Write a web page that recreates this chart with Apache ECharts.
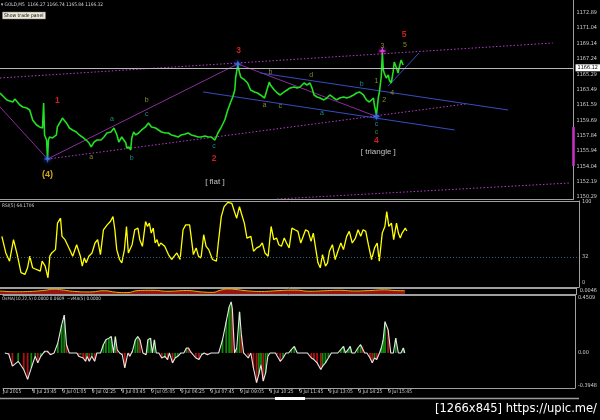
<!DOCTYPE html>
<html><head><meta charset="utf-8">
<script src="https://cdn.jsdelivr.net/npm/echarts@6/dist/echarts.min.js"></script>
<style>html,body{margin:0;padding:0;background:#000;}#c{width:600px;height:420px;}</style>
</head><body><div id="c"></div>
<script>
// ================= DATA =================
const timeTickLabels = ['Jul 2015','8 Jul 23:45','9 Jul 01:05','9 Jul 02:25','9 Jul 03:45','9 Jul 05:05','9 Jul 06:25','9 Jul 07:45','9 Jul 09:05','9 Jul 10:25','9 Jul 11:45','9 Jul 13:05','9 Jul 14:25','9 Jul 15:45'];
const barsPerTick = 16;
const slotCount = 309;

const priceTicks = [1172.89,1171.04,1169.14,1167.24,1165.29,1163.49,1161.59,1159.69,1157.84,1155.94,1154.04,1152.19,1150.29];
const currentPrice = 1166.12;
const axisBandPrice = [1154.09, 1158.87];

const priceIdx = [0,3.7,6.9,8.0,10.7,12.3,14.4,16.0,17.6,19.7,21.3,22.9,23.5,24.0,25.1,25.6,26.1,26.7,28.3,30.4,30.9,33.1,33.6,35.8,37.4,39.0,41.1,42.7,44.3,46.4,48.0,49.1,50.7,52.3,54.4,56.0,57.6,59.8,61.4,63.0,64.0,65.6,67.8,68.3,69.4,70.4,71.0,72.0,73.1,74.7,76.3,78.4,80.0,81.6,83.8,85.4,87.0,89.1,90.7,92.3,94.4,96.0,97.6,99.8,101.4,103.0,105.1,106.7,108.3,110.5,112.1,113.7,115.8,117.4,119.0,121.1,122.7,124.3,125.4,126.5,127.0,128.1,129.1,129.7,131.8,133.4,135.0,137.1,138.7,140.3,142.5,143.0,145.1,145.7,147.8,149.4,151.0,153.1,154.7,156.3,158.5,160.1,161.7,163.8,165.4,167.0,168.1,169.2,170.8,172.4,174.5,176.1,177.7,179.8,181.4,183.0,185.2,186.8,188.4,190.5,192.1,193.7,195.8,197.4,199.0,201.2,201.7,202.8,203.8,204.4,205.4,206.0,206.5,207.0,208.1,209.2,209.7,210.8,211.8,212.4,213.4,214.5,215.0,216.1,217.2];
const priceVal = [1163.03,1162.18,1161.93,1162.30,1161.56,1161.32,1161.19,1160.95,1159.72,1159.11,1158.87,1158.74,1161.81,1157.89,1157.27,1154.94,1157.27,1157.64,1157.52,1157.89,1158.87,1159.72,1159.97,1159.36,1158.74,1158.50,1158.25,1157.89,1157.64,1157.27,1156.90,1156.42,1157.03,1157.27,1157.27,1157.64,1158.13,1158.25,1158.74,1157.89,1157.03,1157.64,1156.90,1156.29,1156.42,1156.05,1157.52,1158.25,1157.89,1158.13,1158.50,1158.87,1159.36,1158.87,1158.74,1158.50,1158.25,1158.13,1158.13,1157.89,1157.76,1157.64,1157.89,1158.01,1158.13,1157.89,1157.76,1157.64,1157.64,1157.76,1157.64,1157.64,1157.27,1158.13,1158.74,1159.72,1160.95,1161.93,1162.54,1163.40,1164.99,1166.46,1165.48,1164.99,1164.63,1164.26,1163.40,1163.16,1163.03,1162.79,1162.42,1162.79,1164.38,1164.01,1163.40,1163.03,1162.79,1163.16,1163.40,1163.65,1163.77,1163.65,1163.77,1164.26,1164.01,1164.26,1163.65,1162.79,1162.54,1162.42,1162.18,1162.42,1162.79,1162.42,1162.18,1162.42,1162.54,1162.42,1162.54,1162.79,1163.03,1163.16,1162.79,1162.18,1161.93,1162.42,1161.56,1160.34,1162.42,1163.16,1164.99,1167.93,1165.85,1165.48,1164.87,1165.24,1164.63,1164.26,1165.61,1166.83,1166.22,1165.48,1166.10,1167.08,1166.46];

// trend / channel lines: [startIdx, startPrice] -> [endIdx, endPrice]
const lineKind   = ['channel','channel','channel','wave','wave','wave','triangle','triangle','triangle'];
const lineStartIdx   = [0, 25.6, 149.4, 25.6, 0, 128.1, 140.3, 109.4, 209.2];
const lineStartPrice = [1164.87, 1154.94, 1150.04, 1154.94, 1161.32, 1166.59, 1165.48, 1163.16, 1163.89];
const lineEndIdx     = [297.8, 250.8, 306.8, 128.1, 25.6, 202.8, 273.7, 244.9, 225.7];
const lineEndPrice   = [1169.16, 1161.68, 1152.00, 1166.59, 1154.94, 1160.15, 1160.95, 1158.50, 1167.93];

const pivotIdx   = [25.6, 128.1, 202.8, 206.0];
const pivotPrice = [1154.94, 1166.59, 1160.15, 1168.18];
const pivotKind  = ['wave','wave','wave','subwave'];

const waveText   = ['(4)','1','a','a','b','c','b','c','2','[ flat ]','3','b','a','c','d','b','a','1','2','3','4','5','5','c','c','4','[ triangle ]'];
const waveIdx    = [25.6,30.9,49.1,60.3,79.0,79.0,71.0,115.3,115.3,115.8,128.6,145.7,142.5,151.0,167.6,194.8,173.4,202.8,207.0,206.0,211.3,218.2,217.7,202.8,202.8,202.8,203.8];
const wavePrice  = [1153.10,1162.05,1155.19,1159.85,1162.18,1160.46,1155.07,1156.54,1154.94,1152.13,1168.18,1165.61,1161.56,1161.44,1165.24,1164.14,1160.58,1164.50,1162.18,1168.79,1163.03,1168.92,1170.14,1159.23,1158.25,1157.15,1155.80];
const waveDegree = ['intermediate','minor','minute','minuette','minute','minuette','minuette','minuette','minor','pattern','minor','minute','minute','minute','minute','minuette','minuette','minute','minute','minute','minute','minute','minor','minuette','subminuette','minor','pattern'];

const rsiTicks = [100, 32, 0];
const rsiLevel = 32;
const rsiIdx = [1.0,3.1,5.1,7.2,9.2,11.2,13.3,14.7,15.9,17.4,19.4,21.5,22.5,24.1,25.6,26.6,27.6,29.6,30.7,32.3,33.1,34.7,36.8,38.8,40.9,42.9,43.9,45.0,46.0,47.4,49.1,50.7,52.1,53.6,55.2,57.2,58.9,60.3,61.3,62.3,63.8,65.0,66.4,67.5,68.5,70.5,71.9,73.6,74.6,76.0,77.7,78.7,79.7,80.7,81.8,82.8,83.8,84.8,85.8,87.9,89.9,91.6,93.0,94.4,96.1,97.7,99.1,101.2,102.2,103.2,104.7,105.9,107.3,108.7,110.0,111.4,112.4,113.4,115.5,116.5,118.1,119.6,121.6,123.7,125.1,126.3,127.8,128.8,130.4,131.8,133.9,135.3,137.0,138.6,140.0,141.4,143.1,144.7,146.1,147.6,148.8,150.2,151.7,152.9,154.3,155.8,157.4,159.0,160.5,161.5,163.1,164.5,166.0,167.2,168.0,169.7,170.9,172.1,173.7,174.8,175.8,177.4,178.9,180.3,181.9,183.3,185.0,186.4,188.0,189.7,191.1,192.5,193.8,195.2,196.6,198.3,199.9,201.3,202.4,204.0,205.4,206.4,207.5,208.9,210.1,211.6,212.6,213.6,214.6,216.3,217.1];
const rsiVal = [57.6,37.1,26.9,53.5,35.1,12.7,10.6,18.8,33.1,18.8,16.7,14.7,26.9,20.8,6.5,33.1,37.1,41.2,73.9,80.0,57.6,53.5,43.3,33.1,47.3,33.1,20.8,31.0,24.9,33.1,37.1,49.4,53.5,35.1,65.7,71.8,75.9,82.0,65.7,41.2,29.0,24.9,41.2,69.8,37.1,47.3,65.7,67.8,53.5,45.3,75.9,69.8,73.9,61.6,67.8,49.4,53.5,45.3,49.4,45.3,35.1,29.0,33.1,37.1,29.0,65.7,71.8,71.8,53.5,35.1,43.3,33.1,31.0,59.6,45.3,41.2,39.2,29.0,26.9,49.4,82.0,94.3,99.6,98.4,88.2,80.0,94.3,86.1,73.9,55.5,57.6,39.2,43.3,45.3,49.4,37.1,33.1,69.8,53.5,55.5,47.3,45.3,55.5,49.4,43.3,67.8,65.7,63.7,49.4,51.4,65.7,63.7,51.4,61.6,59.6,24.9,18.8,35.1,20.8,24.9,39.2,47.3,29.0,39.2,49.4,41.2,57.6,63.7,49.4,55.5,65.7,57.6,65.7,63.7,47.3,29.0,43.3,49.4,26.9,61.6,69.8,88.2,69.8,73.9,53.5,73.9,61.6,55.5,61.6,67.8,64.2];

const miniIdx = [0,8,16,24,29,33,40,48,56,62,68,74,82,90,100,108,114,118,122,126,132,140,150,158,166,174,182,190,198,206,212,217];
const miniVal = [0,-0.0011,-0.0007,0.0011,0.0028,0.0018,-0.0007,-0.0014,0.0004,-0.0018,-0.0025,0.0007,0.0011,-0.0004,0.0007,-0.0014,-0.0021,0.0011,0.0032,0.0025,0.0004,-0.0007,0.0007,0.0014,-0.0004,0.0004,0.0011,0,0.0007,0.0018,0.0007,0.0004];
const miniTicks = [0.0046];

const osmaTickVals = [0.4509, 0, -0.27];
const osmaTickText = ['0.4509', '0.00', '-0.3948'];
const osmaIdx = [1.0,3.1,5.1,8.2,11.2,13.3,15.3,17.4,18.8,20.4,22.5,24.1,25.6,27.6,29.6,31.7,33.1,34.3,35.8,37.8,39.9,40.9,41.9,43.3,44.6,45.4,46.6,48.0,49.5,50.7,52.7,54.2,55.6,57.2,58.5,59.7,60.7,61.7,63.0,64.4,65.8,67.5,68.5,69.9,71.5,72.8,74.0,75.6,77.3,78.3,79.7,80.7,81.8,82.8,84.2,85.8,87.5,88.9,89.9,91.6,93.0,94.4,96.1,97.7,99.1,100.2,101.2,102.2,104.2,105.9,107.3,108.7,110.4,112.4,114.5,116.5,118.6,120.6,122.2,123.3,123.9,125.1,126.3,127.8,128.8,130.0,130.8,132.5,133.9,135.3,137.0,138.2,139.4,140.6,141.9,143.1,144.3,145.5,147.2,148.2,149.8,151.3,152.9,154.3,155.8,157.4,159.0,160.7,162.5,164.5,166.6,168.0,169.7,171.7,172.7,174.2,175.8,177.4,179.1,180.9,182.5,184.0,185.0,186.4,187.6,188.5,190.1,191.7,193.2,194.2,195.4,196.6,198.3,199.5,200.7,201.9,203.4,204.4,205.4,206.4,208.1,209.5,210.9,212.2,213.6,215.0,216.3,217.1];
const osmaVal = [0,-0.008,-0.108,-0.068,-0.135,-0.216,-0.122,-0.027,-0.081,-0.027,0.014,0.014,-0.014,0,0.081,0.230,0.311,0.068,0,0,0,-0.027,-0.014,-0.041,-0.068,-0.027,-0.068,-0.027,-0.068,0,0,0.068,0.108,0.122,0.135,0,0.135,0.027,0,-0.014,-0.122,0,-0.027,0.014,0.108,0.135,0.108,0,-0.014,0.108,0.122,0,0.108,0,0,-0.041,-0.027,-0.054,0,-0.081,-0.041,-0.027,0,0,0.041,0.041,0.014,0,-0.041,-0.054,-0.014,0,-0.014,0,0,0,0.108,0.257,0.378,0.419,0.365,0,0.041,0.338,0.149,0,0,-0.041,0,-0.122,-0.243,-0.176,-0.095,-0.230,-0.162,-0.027,0,0,0,-0.014,-0.068,-0.041,0,0,0.027,0.054,0,0,0,0,-0.041,-0.054,-0.081,-0.135,-0.108,-0.081,-0.041,0,0,0,0.027,0.054,0,0.027,0.054,0,0,0.041,0.068,0.054,0,0,-0.041,-0.081,-0.041,-0.054,0,0.041,0.108,0.257,0.189,0,0,0.122,0,0,0.041,0];

// ================= STYLES =================
const FONT = 'DejaVu Sans Condensed';
const AX = '#a0a0a0';
const TXT = '#cfcfcf';
const degreeStyle = {
  intermediate:{color:'#ffd21e', size:9, weight:'bold'},
  minor:{color:'#ff2828', size:8.5, weight:'bold'},
  minute:{color:'#a9a93c', size:7, weight:'normal'},
  minuette:{color:'#2fa6a6', size:7, weight:'normal'},
  subminuette:{color:'#3fae3f', size:7, weight:'normal'},
  pattern:{color:'#ececec', size:8, weight:'normal'}
};
const lineKindStyle = {
  channel:{color:'#b43cc8', width:1, type:[1.5,2]},
  wave:{color:'#8c2c9c', width:1, type:'solid'},
  triangle:{color:'#3a4cc0', width:1, type:'solid'}
};
const pivotColor = {wave:'#3f74ff', subwave:'#ff48ff'};
const STAR = 'path://M0,-10L2.5,-2.5L10,0L2.5,2.5L0,10L-2.5,2.5L-10,0L-2.5,-2.5Z';
const HIST_UP = '#0b8a0b', HIST_DOWN = '#b01212';

const zip = (a,b) => a.slice(0, Math.min(a.length,b.length)).map((v,i)=>[v,b[i]]);
const tickIdx = timeTickLabels.map((_,i)=>i*barsPerTick);

// ================= OPTION =================
const grids = [
  {left:-1, right:21, top:0, height:199},
  {left:-1, right:21, top:201, height:86},
  {left:-1, right:21, top:288, height:6},
  {left:-1, right:21, top:295, height:93}
];
const xAxes = grids.map((g,i)=>({
  type:'value', gridIndex:i, min:0, max:slotCount,
  splitLine:{show:false},
  axisLine:{show:true, onZero:false, lineStyle:{color:AX}},
  axisTick:{show:i===3, customValues:tickIdx, length:3, lineStyle:{color:AX}},
  axisLabel:{show:i===3, customValues:tickIdx, align:'left', margin:1, fontSize:5, color:TXT, fontFamily:FONT,
    formatter:v=>{const k=Math.round(v/barsPerTick); return timeTickLabels[k]||'';}}
}));
[1,2,3].forEach(i=>xAxes.push({type:'value', gridIndex:i, position:'top', min:0, max:slotCount,
  splitLine:{show:false}, axisTick:{show:false}, axisLabel:{show:false}, axisLine:{show:true, onZero:false, lineStyle:{color:AX}}}));
const yBase = (i, min, max, vals, fmt) => ({
  type:'value', gridIndex:i, position:'right', min, max, scale:true,
  splitLine:{show:false},
  axisLine:{show:true, onZero:false, lineStyle:{color:AX}},
  axisTick:{show:false},
  axisLabel:{customValues:vals, formatter:fmt, fontSize:5.5, color:TXT, fontFamily:FONT, margin:3, showMinLabel:true, showMaxLabel:true}
});
const yAxes = [
  yBase(0, 1150.04, 1174.43, priceTicks, v=>v.toFixed(2)),
  yBase(1, -4.94, 101.23, rsiTicks, v=>String(Math.round(v))),
  yBase(2, -0.0046, 0.0046, miniTicks, v=>v.toFixed(4)),
  yBase(3, -0.2869, 0.4754, osmaTickVals, v=>{let k=osmaTickVals.findIndex(t=>Math.abs(t-v)<1e-6); return k>=0?osmaTickText[k]:'';})
];
yAxes[2].axisLabel.verticalAlign = 'top';

const series = [];
series.push({
  type:'line', xAxisIndex:0, yAxisIndex:0, data:zip(priceIdx, priceVal), symbol:'none', z:4,
  lineStyle:{color:'#22e022', width:1.6}, silent:true,
  markLine:{symbol:'none', silent:true, animation:false, data:[
    {yAxis:currentPrice, lineStyle:{color:'#b8b8b8', width:1, type:'solid'},
     label:{show:true, position:'end', distance:2, formatter:()=>currentPrice.toFixed(2), backgroundColor:'#ffffff', color:'#000', fontSize:5.5, padding:[1,2,0,2], fontFamily:FONT}},
    [{coord:[slotCount, axisBandPrice[0]], lineStyle:{color:'#c832c8', width:2.5, type:'solid'}, label:{show:false}},
     {coord:[slotCount, axisBandPrice[1]]}]
  ]}
});
lineKind.forEach((k,i)=>{
  series.push({type:'line', xAxisIndex:0, yAxisIndex:0, symbol:'none', silent:true, z:3,
    data:[[lineStartIdx[i], lineStartPrice[i]],[lineEndIdx[i], lineEndPrice[i]]],
    lineStyle:lineKindStyle[k]});
});
series.push({type:'scatter', xAxisIndex:0, yAxisIndex:0, symbol:STAR, symbolSize:8, z:6, silent:true,
  data:pivotIdx.map((x,i)=>({value:[x,pivotPrice[i]], itemStyle:{color:pivotColor[pivotKind[i]], shadowBlur:4, shadowColor:pivotColor[pivotKind[i]]}}))});
series.push({type:'scatter', xAxisIndex:0, yAxisIndex:0, symbolSize:1, z:7, silent:true, itemStyle:{color:'rgba(0,0,0,0)'},
  data:waveText.map((t,i)=>{const s=degreeStyle[waveDegree[i]]; return {value:[waveIdx[i],wavePrice[i]],
    label:{show:true, position:'inside', formatter:t, color:s.color, fontSize:s.size, fontWeight:s.weight, fontFamily:'Liberation Sans'}};})});
series.push({type:'line', xAxisIndex:1, yAxisIndex:1, data:zip(rsiIdx, rsiVal), symbol:'none', silent:true,
  lineStyle:{color:'#ffff00', width:1.3},
  markLine:{symbol:'none', silent:true, label:{show:false}, data:[{yAxis:rsiLevel}], lineStyle:{color:'#3b5b7a', type:[1,2], width:1}}});
series.push({type:'line', xAxisIndex:2, yAxisIndex:2, data:zip(miniIdx, miniVal), symbol:'none', silent:true, smooth:true,
  lineStyle:{color:'#e8b800', width:1}, areaStyle:{color:'#b01818', opacity:0.85, origin:'start'}});
series.push({type:'custom', xAxisIndex:3, yAxisIndex:3, silent:true, clip:true,
  data:osmaVal.map((v,i)=>({value:[osmaIdx[i], v], itemStyle:{color:(i>0 && v>osmaVal[i-1]) ? HIST_UP : HIST_DOWN}})),
  renderItem:(params, api)=>{
    const x = api.value(0), v = api.value(1);
    if (!v) return null;
    const p1 = api.coord([x, v]), p0 = api.coord([x, 0]);
    return {type:'rect', shape:{x:p1[0]-0.9, y:Math.min(p0[1],p1[1]), width:1.8, height:Math.abs(p1[1]-p0[1])},
      style:{fill:api.visual('color')}};
  }});
series.push({type:'line', xAxisIndex:3, yAxisIndex:3, data:zip(osmaIdx, osmaVal), symbol:'none', silent:true, z:5,
  lineStyle:{color:'#e6e6e6', width:1.1}});

const option = {
  backgroundColor:'#000', animation:false,
  textStyle:{fontFamily:FONT},
  grid:grids, xAxis:xAxes, yAxis:yAxes, series,
  title:[
    {text:'\u25BE GOLD,M5  1166.27 1166.74 1165.84 1166.32', left:1, top:2, padding:0, textStyle:{color:'#d8d8d8', fontSize:4.8, fontWeight:'normal', fontFamily:FONT}},
    {text:'Show trade panel', left:2, top:12, padding:[1.5,2,1,2], backgroundColor:'#ece9d8', borderColor:'#7a7a7a', borderWidth:0.5, textStyle:{color:'#000', fontSize:5, fontWeight:'normal', fontFamily:FONT}},
    {text:'RSI(5) 64.1706', left:2, top:203, padding:0, textStyle:{color:'#cfcfcf', fontSize:4.8, fontWeight:'normal', fontFamily:FONT}},
    {text:'OsMA(10,22,5) 0.0000 0.0609  ~vMA(5) 0.0000', left:2, top:296, padding:0, textStyle:{color:'#cfcfcf', fontSize:4.6, fontWeight:'normal', fontFamily:FONT}},
    {text:'[1266x845] https://upic.me/', right:3, top:402, padding:0, textStyle:{color:'#ffffff', fontSize:12.8, fontWeight:'normal', fontFamily:'DejaVu Sans Condensed'}}
  ],
  graphic:[
    {type:'line', shape:{x1:0, y1:398.5, x2:579, y2:398.5}, style:{stroke:'#9a9a9a', lineWidth:1.5}, silent:true},
    {type:'rect', shape:{x:275, y:397, width:30, height:3}, style:{fill:'#ffffff'}, silent:true}
  ]
};
const chart = echarts.init(document.getElementById('c'), null, {renderer:'canvas'});
chart.setOption(option);
</script>
</body></html>
